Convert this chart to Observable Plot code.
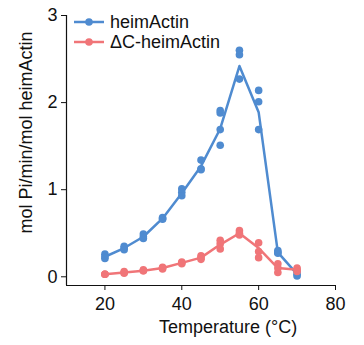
<!DOCTYPE html>
<html>
<head>
<meta charset="utf-8">
<script src="https://cdn.jsdelivr.net/npm/d3@7"></script>
<script src="https://cdn.jsdelivr.net/npm/@observablehq/plot@0.6"></script>
<style>
  body { margin: 0; background: #fff; }
  #wrap { position: relative; width: 364px; height: 345px; font-family: "Liberation Sans", Arial, sans-serif; }
  #legend { position: absolute; left: 74px; top: 12px; font-size: 18px; line-height: 20px; color: #111; }
  #legend div { display: flex; align-items: center; white-space: nowrap; }
  #legend svg { margin-right: 6px; }
</style>
</head>
<body>
<div id="wrap"><div id="legend"></div></div>
<script>
const temps = [20, 25, 30, 35, 40, 45, 50, 55, 60, 65, 70];
const seriesNames = ["heimActin", "ΔC-heimActin"];
const colors = ["#4f8bd0", "#f07578"];
// replicate measurements per temperature (mol Pi/min/mol heimActin)
const heimActin = [
  [0.26, 0.23, 0.21],
  [0.35, 0.33, 0.31],
  [0.49, 0.46, 0.44],
  [0.68, 0.67, 0.66],
  [1.01, 0.97, 0.93],
  [1.34, 1.24, 1.23],
  [1.91, 1.88, 1.69, 1.51],
  [2.60, 2.55, 2.27],
  [2.14, 2.01, 1.69],
  [0.30, 0.28, 0.27],
  [0.06, 0.03, 0.01]
];
const heimActinMean = [0.23, 0.33, 0.46, 0.67, 0.96, 1.27, 1.70, 2.42, 1.89, 0.28, 0.03];
const dcHeimActin = [
  [0.03, 0.03, 0.03],
  [0.06, 0.05, 0.04],
  [0.08, 0.07, 0.07],
  [0.11, 0.10, 0.09],
  [0.17, 0.16, 0.15],
  [0.24, 0.22, 0.20],
  [0.42, 0.38, 0.32],
  [0.53, 0.50, 0.48],
  [0.39, 0.29, 0.22],
  [0.15, 0.10, 0.05],
  [0.10, 0.08, 0.06]
];
const dcHeimActinMean = [0.03, 0.05, 0.07, 0.10, 0.16, 0.22, 0.37, 0.50, 0.33, 0.10, 0.08];
const xTicks = [20, 40, 60, 80];
const yTicks = [0, 1, 2, 3];
const xLabel = "Temperature (°C)";
const yLabel = "mol Pi/min/mol heimActin";

const points = [];
const means = [];
[[heimActin, heimActinMean], [dcHeimActin, dcHeimActinMean]].forEach(([reps, mean], s) => {
  temps.forEach((t, i) => {
    reps[i].forEach(v => points.push({series: seriesNames[s], t, v}));
    means.push({series: seriesNames[s], t, v: mean[i]});
  });
});

const font = "Liberation Sans, Arial, sans-serif";
const chart = Plot.plot({
  width: 364,
  height: 345,
  marginLeft: 66,
  marginRight: 29,
  marginTop: 15,
  marginBottom: 60,
  style: {fontFamily: font, fontSize: "18px", color: "#111", background: "transparent", overflow: "visible"},
  x: {domain: [10, 80], label: null},
  y: {domain: [-0.1, 3], label: null},
  color: {domain: seriesNames, range: colors},
  marks: [
    Plot.ruleX([10], {y1: -0.1, y2: 3, stroke: "#111", strokeWidth: 1.2}),
    Plot.ruleY([-0.1], {x1: 10, x2: 80, stroke: "#111", strokeWidth: 1.2}),
    Plot.axisX({ticks: xTicks, tickSize: 5, tickPadding: 7, label: null, fontSize: 18, tickFormat: d3.format("d")}),
    Plot.axisY({ticks: yTicks, tickSize: 5, tickPadding: 4, label: null, fontSize: 18, tickFormat: d3.format("d")}),
    Plot.line(means, {x: "t", y: "v", z: "series", stroke: "series", strokeWidth: 2.5}),
    Plot.dot(points, {x: "t", y: "v", fill: "series", r: 3.8}),
    Plot.text([xLabel], {text: d => d, frameAnchor: "bottom", textAnchor: "middle", dx: 27, dy: 47, fontSize: 18, fill: "#111"}),
    Plot.text([yLabel], {text: d => d, frameAnchor: "left", textAnchor: "middle", rotate: -90, dx: -40, dy: -18, fontSize: 18, fill: "#111"})
  ]
});
document.getElementById("wrap").prepend(chart);

const legend = document.getElementById("legend");
seriesNames.forEach((name, i) => {
  const row = document.createElement("div");
  row.innerHTML = `<svg width="30" height="12"><line x1="0" x2="30" y1="6" y2="6" stroke="${colors[i]}" stroke-width="2.5"/><circle cx="15" cy="6" r="3.8" fill="${colors[i]}"/></svg><span>${name}</span>`;
  legend.appendChild(row);
});
</script>
</body>
</html>
